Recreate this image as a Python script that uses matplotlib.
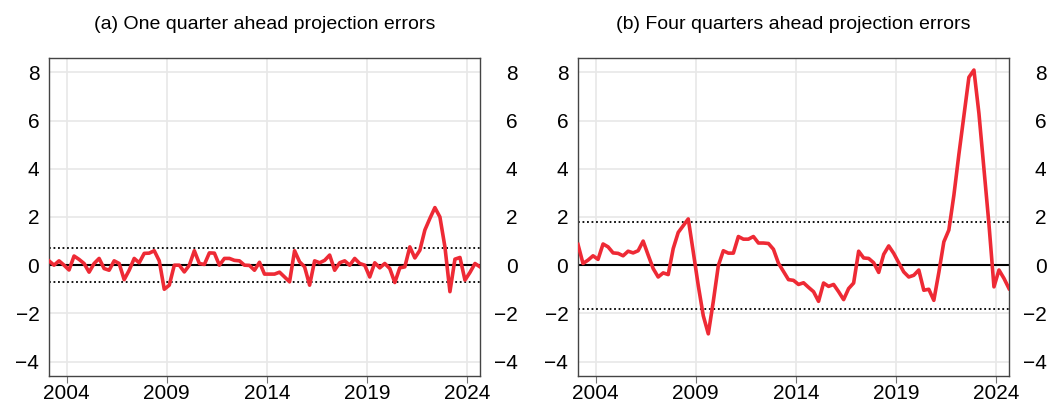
import numpy as np
import matplotlib
matplotlib.use("Agg")
import matplotlib.pyplot as plt

plt.rcParams['font.family'] = ['Liberation Sans', 'DejaVu Sans']

# Quarterly dates: 2003Q1 .. 2024Q3 (mid-quarter positions)
start_year = 2003
n_quarters = 87
dates = start_year + 0.125 + 0.25 * np.arange(n_quarters)

one_quarter_errors = [
    0.18, 0.0, 0.18, 0.0, -0.2, 0.38, 0.24, 0.07, -0.29, 0.07,
    0.28, -0.14, -0.21, 0.18, 0.07, -0.6, -0.21, 0.28, 0.1, 0.49,
    0.5, 0.6, 0.18, -1.0, -0.83, 0.0, 0.0, -0.28, 0.0, 0.6,
    0.07, 0.03, 0.51, 0.5, 0.0, 0.28, 0.28, 0.2, 0.18, 0.0,
    -0.01, -0.21, 0.12, -0.37, -0.37, -0.37, -0.29, -0.49, -0.69, 0.6,
    0.14, -0.07, -0.83, 0.18, 0.1, 0.2, 0.42, -0.21, 0.1, 0.18,
    0.0, 0.28, 0.07, 0.0, -0.49, 0.1, -0.11, 0.07, -0.14, -0.72,
    -0.11, -0.07, 0.76, 0.3, 0.62, 1.46, 1.94, 2.39, 2.0, 0.76,
    -1.1, 0.25, 0.32, -0.62, -0.3, 0.07, -0.07,
]

four_quarter_errors = [
    0.86, 0.07, 0.21, 0.39, 0.24, 0.88, 0.76, 0.51, 0.49, 0.39,
    0.58, 0.51, 0.6, 1.0, 0.42, -0.14, -0.49, -0.32, -0.39, 0.69,
    1.36, 1.64, 1.92, 0.55, -0.85, -2.1, -2.85, -1.5, -0.02, 0.6,
    0.5, 0.5, 1.19, 1.08, 1.08, 1.19, 0.92, 0.92, 0.9, 0.66,
    0.08, -0.26, -0.6, -0.63, -0.8, -0.73, -0.92, -1.1, -1.5, -0.74,
    -0.88, -0.8, -1.1, -1.43, -0.97, -0.74, 0.58, 0.3, 0.28, 0.1,
    -0.3, 0.45, 0.8, 0.49, 0.1, -0.28, -0.49, -0.42, -0.2, -1.04,
    -1.0, -1.46, -0.3, 0.97, 1.46, 2.9, 4.6, 6.2, 7.8, 8.1,
    6.3, 4.0, 1.7, -0.9, -0.2, -0.55, -0.97,
]

titles = ["(a) One quarter ahead projection errors",
          "(b) Four quarters ahead projection errors"]
bands = [0.7, 1.8]
series = [one_quarter_errors, four_quarter_errors]
x_ticks = [2004, 2009, 2014, 2019, 2024]
y_ticks = [-4, -2, 0, 2, 4, 6, 8]

W, H = 1048, 405
fig = plt.figure(figsize=(W / 100, H / 100), dpi=100)

panel_left = [49, 578]
panel_w = 431
panel_top, panel_bottom = 58, 376

red = '#ee2a35'
spine_col = '#444444'

for i in range(2):
    ax = fig.add_axes([panel_left[i] / W, (H - panel_bottom) / H,
                       panel_w / W, (panel_bottom - panel_top) / H])
    ax.set_xlim(dates[0], dates[-1])
    ax.set_ylim(-4.6, 8.6)
    ax.set_xticks(x_ticks)
    ax.set_yticks(y_ticks)
    ax.set_yticklabels([f"{v}".replace('-', '\u2212') for v in y_ticks])
    ax.grid(True, color='#e8e8e8', linewidth=1.2, zorder=0)
    ax.set_axisbelow(True)
    ax.axhline(0, color='black', linewidth=1.5, zorder=2)
    ax.axhline(bands[i], color='black', linestyle=(0, (1, 1.5)), linewidth=1.3, zorder=2)
    ax.axhline(-bands[i], color='black', linestyle=(0, (1, 1.5)), linewidth=1.3, zorder=2)
    ax.plot(dates, series[i], color=red, linewidth=2.6, zorder=3)
    for s in ax.spines.values():
        s.set_color(spine_col)
        s.set_linewidth(1.0)
    ax.tick_params(axis='y', which='both', length=0, labelsize=15, pad=7,
                   labelleft=True, labelright=False)
    ax.tick_params(axis='x', length=5, color='#777777', labelsize=15, pad=1)
    ax.set_title(titles[i], fontsize=14, pad=21)

    # right-hand labels, right aligned
    ax2 = ax.twinx()
    ax2.set_ylim(ax.get_ylim())
    ax2.set_yticks(y_ticks)
    ax2.set_yticklabels([f"{v}".replace('-', '\u2212') for v in y_ticks])
    ax2.tick_params(axis='y', length=0, labelsize=15, pad=27)
    for lab in ax2.get_yticklabels():
        lab.set_horizontalalignment('right')
    for s in ax2.spines.values():
        s.set_visible(False)

fig.savefig('out.png', dpi=100)
